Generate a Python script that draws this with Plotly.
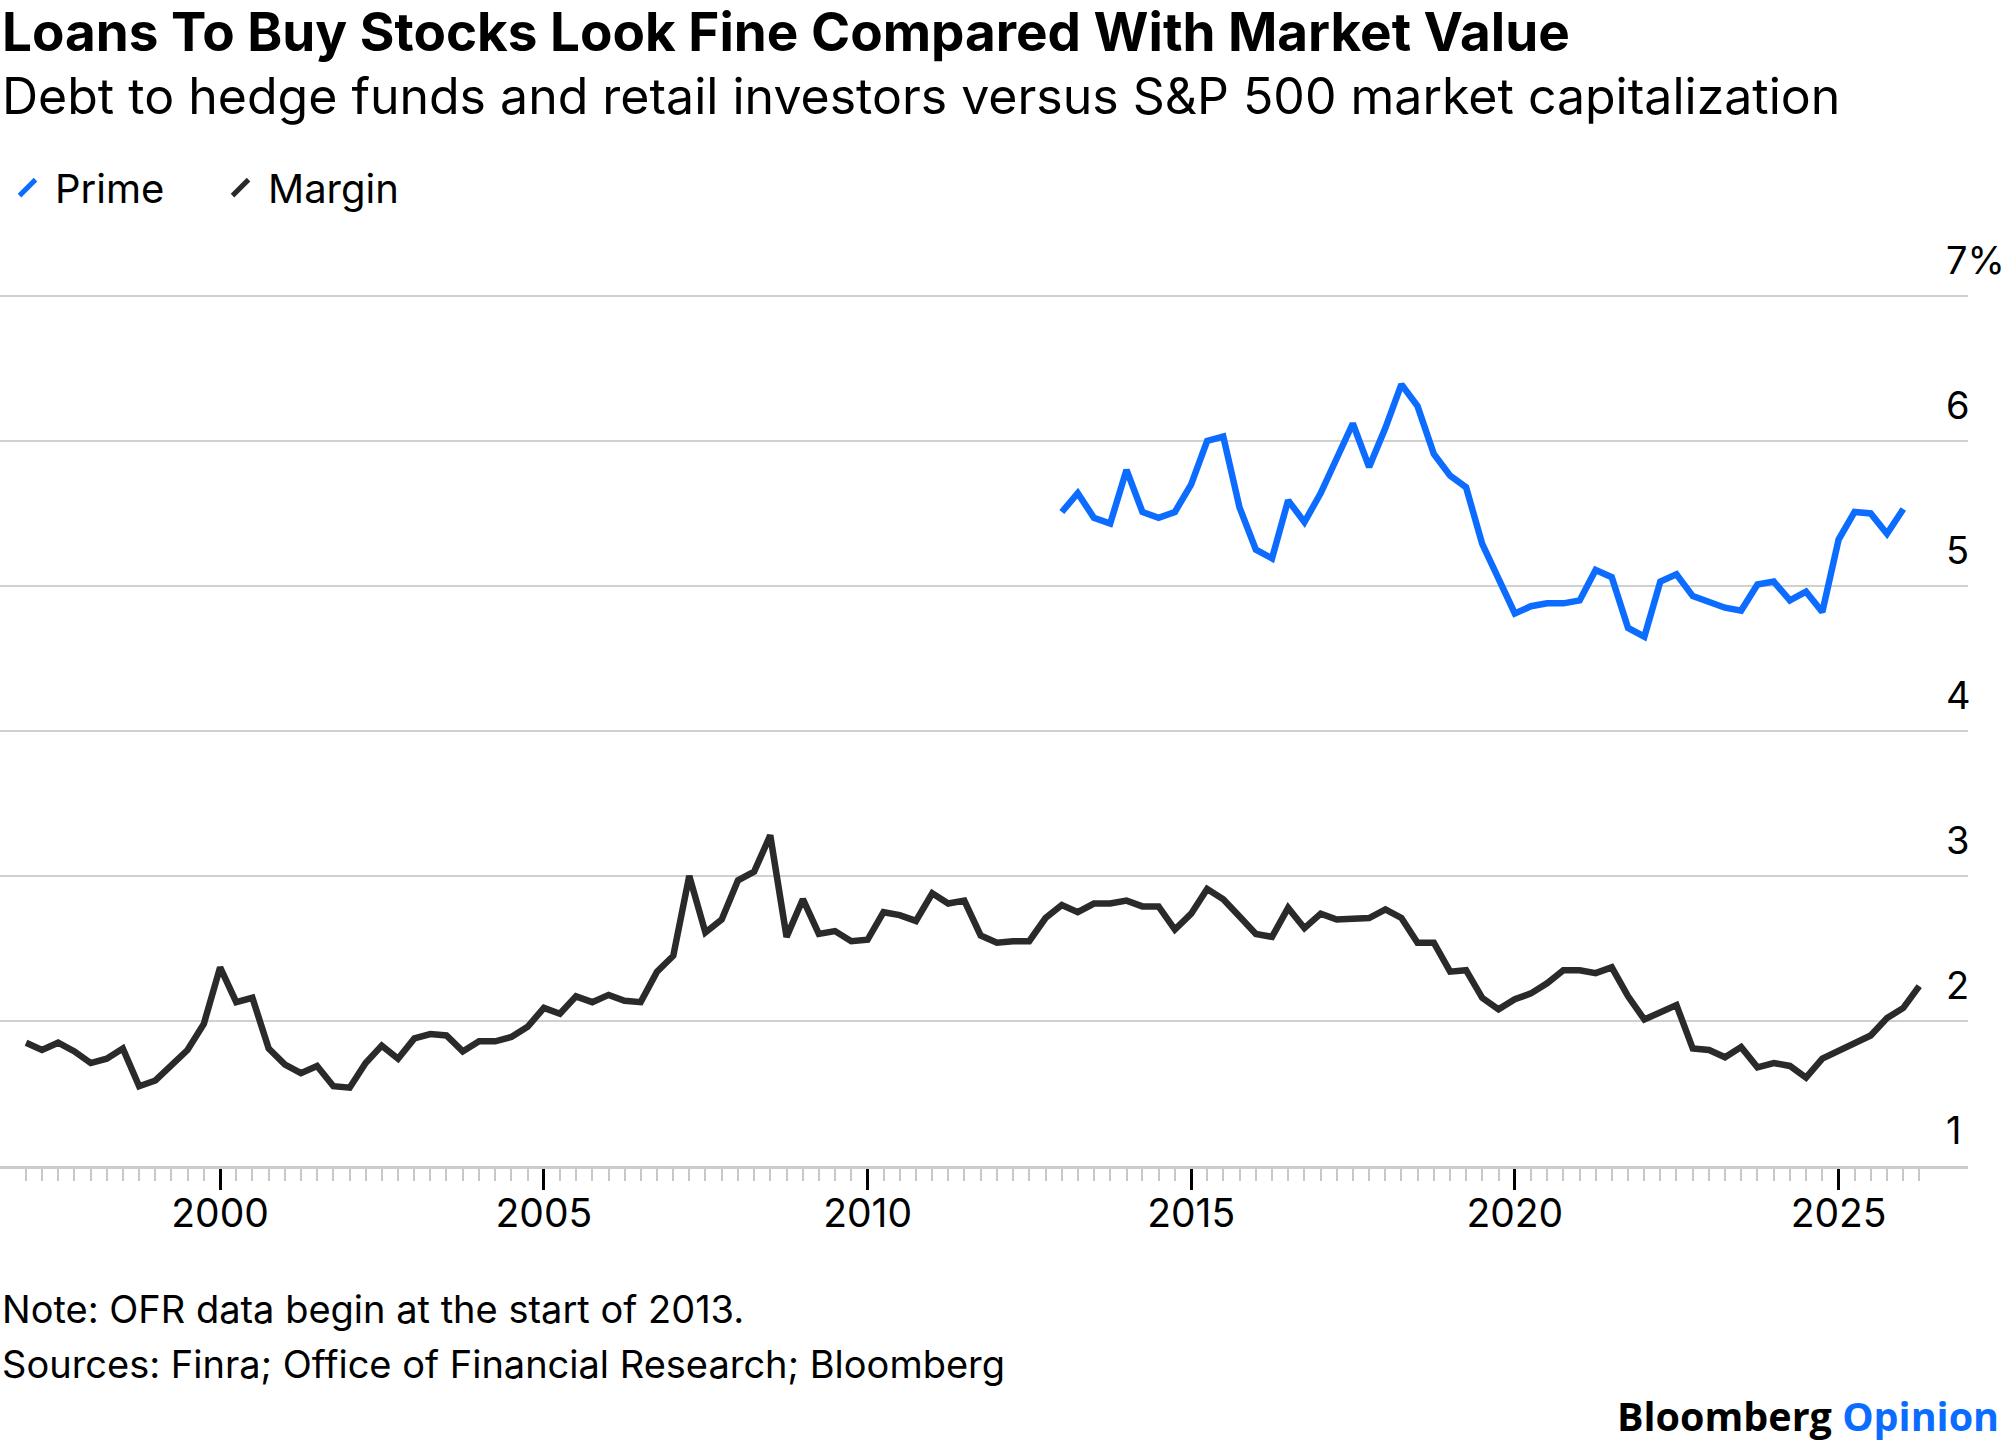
import plotly.graph_objects as go
import pandas as pd

# quarterly readings, % of S&P 500 market cap
margin_start = "1997-01-01"
margin = [1.85, 1.80, 1.85, 1.79,
          1.71, 1.74, 1.81, 1.55,
          1.59, 1.69, 1.80, 1.98,
          2.37, 2.13, 2.16, 1.81,
          1.70, 1.64, 1.69, 1.55,
          1.54, 1.71, 1.83, 1.74,
          1.88, 1.91, 1.90, 1.79,
          1.86, 1.86, 1.89, 1.96,
          2.09, 2.05, 2.17, 2.13,
          2.18, 2.14, 2.13, 2.34,
          2.45, 3.00, 2.61, 2.70,
          2.97, 3.03, 3.28, 2.58,
          2.84, 2.60, 2.62, 2.55,
          2.56, 2.75, 2.73, 2.69,
          2.88, 2.81, 2.83, 2.59,
          2.54, 2.55, 2.55, 2.71,
          2.80, 2.75, 2.81, 2.81,
          2.83, 2.79, 2.79, 2.63,
          2.74, 2.91, 2.84, 2.72,
          2.60, 2.58, 2.78, 2.64,
          2.74, 2.70, 2.71, 2.71,
          2.77, 2.71, 2.54, 2.54,
          2.34, 2.35, 2.16, 2.08,
          2.15, 2.19, 2.26, 2.35,
          2.35, 2.33, 2.37, 2.17,
          2.01, 2.06, 2.11, 1.81,
          1.80, 1.75, 1.82, 1.68,
          1.71, 1.69, 1.61, 1.74,
          1.79, 1.85, 1.90, 2.02,
          2.09, 2.24]

prime_start = "2013-01-01"
prime = [5.51, 5.64, 5.47, 5.43,
         5.80, 5.51, 5.47, 5.51,
         5.70, 6.00, 6.03, 5.54,
         5.25, 5.19, 5.59, 5.44,
         5.64, 5.87, 6.12, 5.82,
         6.09, 6.39, 6.24, 5.91,
         5.76, 5.68, 5.29, 5.05,
         4.81, 4.86, 4.88, 4.88,
         4.90, 5.11, 5.06, 4.71,
         4.65, 5.03, 5.08, 4.93,
         4.89, 4.85, 4.83, 5.01,
         5.03, 4.90, 4.96, 4.82,
         5.32, 5.51, 5.50, 5.36,
         5.53]

y_ticks = [1, 2, 3, 4, 5, 6, 7]
y_labels = ["1", "2", "3", "4", "5", "6", "7%"]

margin_dates = pd.date_range(margin_start, periods=len(margin), freq="QS")
prime_dates = pd.date_range(prime_start, periods=len(prime), freq="QS")

BLUE = "#0b6cff"
DARK = "#2a2a2a"
FONT = "Inter"

fig = go.Figure()
fig.add_trace(go.Scatter(x=prime_dates, y=prime, mode="lines",
                         line=dict(color=BLUE, width=6.5), showlegend=False))
fig.add_trace(go.Scatter(x=margin_dates, y=margin, mode="lines",
                         line=dict(color=DARK, width=6.5), showlegend=False))
# legend swatches (slanted strokes like the original)
for name, color in [("Prime", BLUE), ("Margin", DARK)]:
    fig.add_trace(go.Scatter(x=[None], y=[None], mode="markers", name=name,
                             marker=dict(symbol="line-ne", size=16,
                                         line=dict(color=color, width=5))))

PY0, PH = 1166, 870  # plot bottom and height in px, for placing text


def py(y_px):
    return (PY0 - y_px) / PH


fig.update_layout(
    width=2005, height=1446,
    margin=dict(l=0, r=35, t=293, b=280),
    paper_bgcolor="white", plot_bgcolor="white",
    font=dict(family=FONT, color="black"),
    legend=dict(orientation="h", x=0, xanchor="left", y=py(191), yanchor="middle",
                font=dict(size=40), itemwidth=45, entrywidth=153,
                bgcolor="rgba(0,0,0,0)"),
    hovermode=False,
)

fig.update_xaxes(
    type="date", range=["1996-08-07", "2027-01-01"],
    tick0="2000-01-01", dtick="M60", tickformat="%Y",
    ticks="outside", ticklen=21, tickwidth=3, tickcolor="black",
    tickfont=dict(size=39, color="black"), ticklabelstandoff=-10,
    showgrid=False, zeroline=False,
    showline=True, linecolor="#cccccc", linewidth=3,
    minor=dict(tickmode="array", tickvals=margin_dates, ticks="outside",
               ticklen=12, tickwidth=2, tickcolor="#c8c8c8", showgrid=False),
)
fig.update_yaxes(
    range=[1, 7.02], side="right", tickmode="array",
    tickvals=y_ticks, ticktext=y_labels,
    showgrid=True, gridcolor="#d0d0d0", gridwidth=2, zeroline=False,
    ticks="", tickfont=dict(size=38, color="black"),
    ticklabelposition="outside", ticklabelstandoff=-23, ticklabelshift=-35,
)


def note(text, y_px, size, bold=False):
    fig.add_annotation(text=f"<b>{text}</b>" if bold else text,
                       xref="paper", yref="paper", x=0, y=py(y_px),
                       xanchor="left", yanchor="middle", showarrow=False,
                       font=dict(size=size, family=FONT, color="black"))


note("Loans To Buy Stocks Look Fine Compared With Market Value", 36, 53, bold=True)
note("Debt to hedge funds and retail investors versus S&P 500 market capitalization", 100, 50)
note("Note: OFR data begin at the start of 2013.", 1309, 38)
note("Sources: Finra; Office of Financial Research; Bloomberg", 1363, 38)
fig.add_annotation(
    text=f"<b>Bloomberg</b> <b><span style='color:{BLUE}'>Opinion</span></b>",
    xref="paper", yref="paper", x=1.0168, y=py(1415), xanchor="right", yanchor="middle",
    showarrow=False, font=dict(size=39.5, family="Open Sans", color="black"))

fig.write_html("out.html", config={"displayModeBar": False},
               post_script="document.body.style.margin='0';")
